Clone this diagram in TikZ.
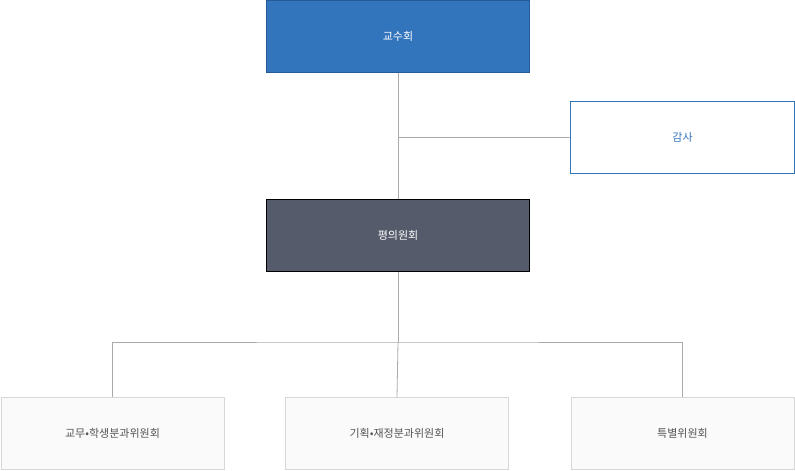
\documentclass[tikz,border=0pt]{standalone}
\usepackage{fontspec}
\setmainfont{Noto Sans CJK KR}
\begin{document}
\begin{tikzpicture}[x=1pt,y=-1pt,
 box/.style={draw,minimum width=263pt,minimum height=72pt,inner sep=0pt,font=\fontsize{11}{13}\selectfont},
 top/.style={box,fill={rgb,255:red,51;green,117;blue,189},draw={rgb,255:red,38;green,90;blue,150},text=white},
 mid/.style={box,fill={rgb,255:red,85;green,91;blue,107},draw=black,text=white},
 aud/.style={box,minimum width=224pt,draw={rgb,255:red,51;green,117;blue,189},line width=1pt,text={rgb,255:red,51;green,117;blue,189}},
 sub/.style={box,minimum width=223pt,fill={rgb,255:red,250;green,250;blue,250},draw={rgb,255:red,215;green,215;blue,215},text={rgb,255:red,85;green,85;blue,85}},
 ln/.style={draw={rgb,255:red,170;green,170;blue,170},line width=0.8pt}]
\useasboundingbox (0,0) rectangle (795,471);
\node[top] (a) at (398,36.5) {교수회};
\node[aud] (b) at (682.5,137) {감사};
\node[mid] (c) at (398,235.5) {평의원회};
\node[sub] (d1) at (112.5,433.5) {교무•학생분과위원회};
\node[sub] (d2) at (397,433.5) {기획•재정분과위원회};
\node[sub] (d3) at (682.5,433.5) {특별위원회};
\coordinate (j) at (398,137);
\coordinate (k) at (398,342);
\draw[ln] (a) -- (c);
\draw[ln] (j) -- (b.west);
\draw[ln] (c) -- (k);
\draw[ln] (k) -- (d2.north);
\draw[ln] (d1.north) |- (k) -| (d3.north);
\end{tikzpicture}
\end{document}
